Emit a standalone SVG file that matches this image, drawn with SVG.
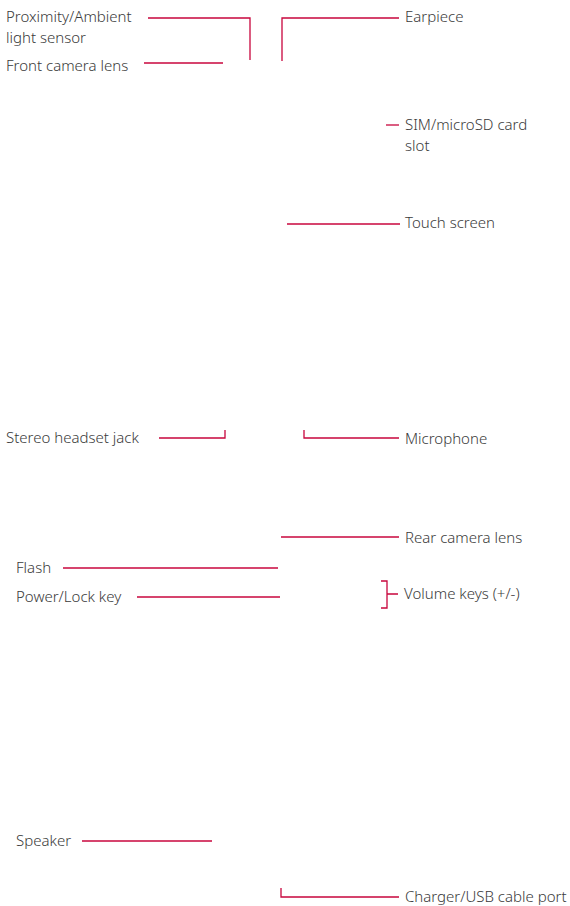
<svg xmlns="http://www.w3.org/2000/svg" width="570" height="906" viewBox="0 0 570 906">
<style>
text{font-family:"Noto Sans","Open Sans",sans-serif;font-size:15px;fill:#3a3a3a;font-weight:300}
.c{fill:none;stroke:#c8063d;stroke-width:1.3}
</style>
<rect width="570" height="906" fill="#fff"/>
<g id="connectors">
<path class="c" d="M148 18H250V60"/>
<path class="c" d="M144 63H223"/>
<path class="c" d="M282 61V18H399"/>
<path class="c" d="M386 125H399"/>
<path class="c" d="M287 224H400"/>
<path class="c" d="M159 438H225V430"/>
<path class="c" d="M304 430V438H399"/>
<path class="c" d="M281 537H399"/>
<path class="c" d="M63 568H278"/>
<path class="c" d="M137 597H280"/>
<path class="c" d="M381 581H387V608H381M387 594H398"/>
<path class="c" d="M82 841H212"/>
<path class="c" d="M281 888V897H399"/>
</g>
<g id="proximity"><text x="6" y="22">Proximity/Ambient</text><text x="6" y="43">light sensor</text></g>
<g id="front-camera"><text x="6" y="71">Front camera lens</text></g>
<g id="earpiece"><text x="405" y="22">Earpiece</text></g>
<g id="sim"><text x="405" y="130">SIM/microSD card</text><text x="405" y="151">slot</text></g>
<g id="touch"><text x="405" y="228">Touch screen</text></g>
<g id="headset"><text x="6" y="443">Stereo headset jack</text></g>
<g id="microphone"><text x="405" y="444">Microphone</text></g>
<g id="rear-camera"><text x="405" y="543">Rear camera lens</text></g>
<g id="flash"><text x="16" y="573">Flash</text></g>
<g id="power"><text x="16" y="602">Power/Lock key</text></g>
<g id="volume"><text x="404" y="599">Volume keys (+/-)</text></g>
<g id="speaker"><text x="16" y="846">Speaker</text></g>
<g id="charger"><text x="405" y="902">Charger/USB cable port</text></g>
</svg>
